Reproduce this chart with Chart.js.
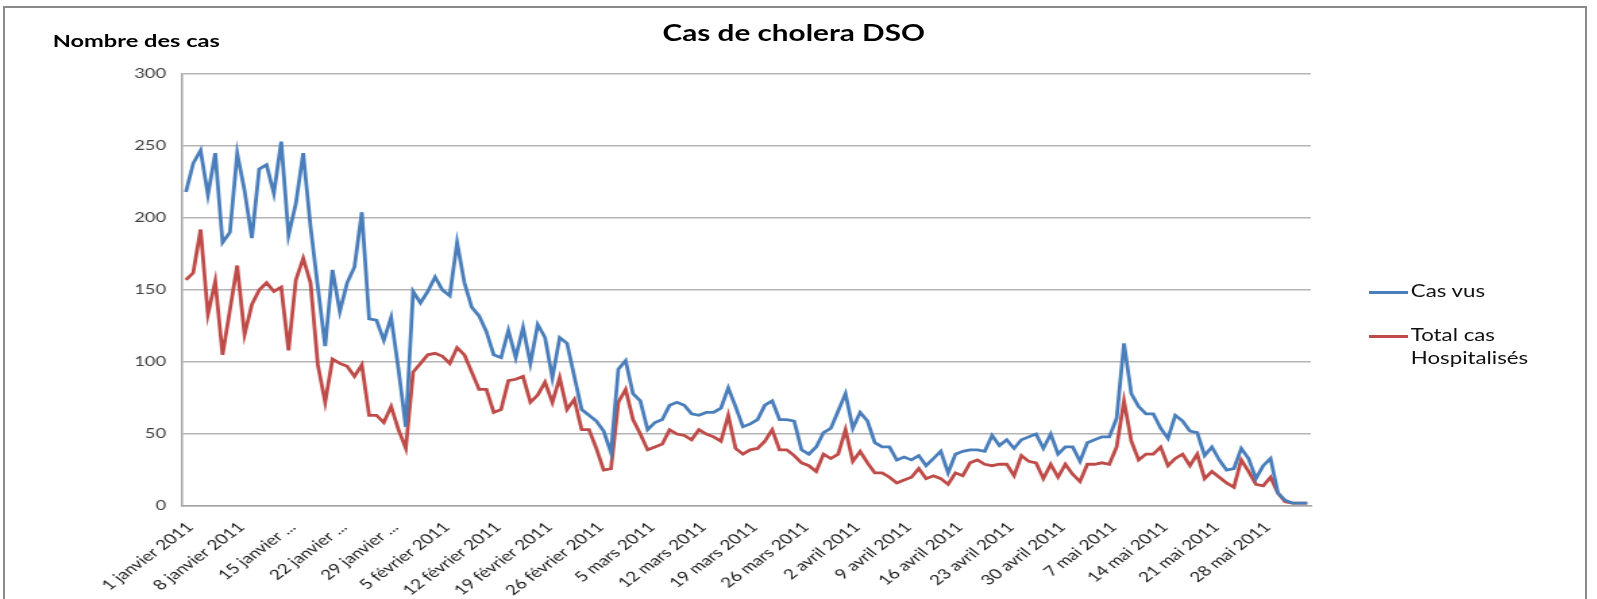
<!DOCTYPE html>
<html>
<head>
<meta charset="utf-8">
<script src="https://cdn.jsdelivr.net/npm/chart.js@4.4.1/dist/chart.umd.min.js"></script>
<style>
  html, body { margin: 0; padding: 0; background: #fff; overflow: hidden; }
  body { width: 1597px; height: 599px; position: relative; font-family: Lato, sans-serif; }
  /* le graphique d'origine est étiré horizontalement, on fait pareil */
  #stage { position: absolute; left: 0; top: 0; width: 1183px; height: 599px;
           transform: scaleX(1.35); transform-origin: 0 0; }
  #frame { position: absolute; left: 3px; top: 6px; width: 1580px; height: 650px;
           border: 2px solid #8a8a8a; }
  #titre { position: absolute; left: 0; top: 20px; width: 1176px; text-align: center;
           font-weight: bold; font-size: 22px; line-height: 26px; color: #000; }
  #ylabel { position: absolute; left: 39px; top: 31px; font-weight: bold; font-size: 17.5px;
            line-height: 20px; color: #000; }
  #legende { position: absolute; left: 1014px; top: 280px; font-size: 16.5px; line-height: 23px; color: #111; }
  .item { display: flex; align-items: flex-start; margin-bottom: 21px; }
  .trait { width: 29px; height: 2.5px; margin-top: 11px; margin-right: 2px; }
</style>
</head>
<body>
<div id="frame"></div>
<div id="stage">
  <canvas id="myChart" width="1183" height="599"></canvas>
  <div id="titre">Cas de cholera DSO</div>
  <div id="ylabel">Nombre des cas</div>
  <div id="legende">
    <div class="item"><div class="trait" style="background:#4a7ebb"></div><div>Cas vus</div></div>
    <div class="item"><div class="trait" style="background:#be4b48"></div><div>Total cas<br>Hospitalisés</div></div>
  </div>
</div>
<script>
// Jours : 1 janvier 2011 -> 3 juin 2011
const mois = ['janvier', 'février', 'mars', 'avril', 'mai', 'juin'];
const joursParMois = [31, 28, 31, 30, 31, 3];
const days = [];
mois.forEach((m, k) => {
    for (let d = 1; d <= joursParMois[k]; d++) days.push(d + ' ' + m + ' 2011');
});

// Étiquettes affichées (une par semaine), tronquées comme dans Excel
const tickLabels = ['1 janvier 2011', '8 janvier 2011', '15 janvier ...', '22 janvier ...', '29 janvier ...',
    '5 février 2011', '12 février 2011', '19 février 2011', '26 février 2011', '5 mars 2011',
    '12 mars 2011', '19 mars 2011', '26 mars 2011', '2 avril 2011', '9 avril 2011',
    '16 avril 2011', '23 avril 2011', '30 avril 2011', '7 mai 2011', '14 mai 2011',
    '21 mai 2011', '28 mai 2011'];

// Cas vus
const casVus = [
    218, 238, 247, 216, 245, 183, 190, 245, 219, 186,
    234, 237, 217, 253, 188, 210, 245, 194, 152, 111,
    164, 135, 155, 166, 204, 130, 129, 115, 131, 95,
    55, 149, 141, 149, 159, 150, 146, 183, 155, 138,
    132, 121, 105, 103, 122, 103, 124, 99, 126, 117,
    89, 117, 113, 90, 67, 63, 59, 52, 37, 95,
    101, 78, 73, 53, 58, 60, 70, 72, 70, 64,
    63, 65, 65, 68, 82, 69, 55, 57, 60, 70,
    73, 60, 60, 59, 39, 36, 41, 51, 54, 66,
    78, 54, 65, 59, 44, 41, 41, 32, 34, 32,
    35, 28, 33, 38, 23, 36, 38, 39, 39, 38,
    49, 42, 46, 40, 46, 48, 50, 40, 50, 36,
    41, 41, 31, 44, 46, 48, 48, 61, 113, 78,
    69, 64, 64, 54, 47, 63, 59, 52, 51, 35,
    41, 32, 25, 26, 40, 33, 19, 28, 33, 9,
    4, 2, 2, 2
];

// Total cas hospitalisés
const casHospit = [
    157, 162, 192, 133, 156, 105, 136, 167, 119, 140,
    150, 155, 149, 152, 108, 157, 172, 155, 98, 72,
    102, 99, 97, 90, 98, 63, 63, 58, 69, 53,
    40, 93, 99, 105, 106, 104, 99, 110, 105, 93,
    81, 81, 65, 67, 87, 88, 90, 72, 77, 86,
    72, 89, 67, 74, 53, 53, 40, 25, 26, 72,
    81, 60, 50, 39, 41, 43, 53, 50, 49, 46,
    53, 50, 48, 45, 63, 40, 36, 39, 40, 45,
    53, 39, 39, 35, 30, 28, 24, 36, 33, 36,
    53, 31, 38, 30, 23, 23, 20, 16, 18, 20,
    26, 19, 21, 19, 15, 23, 21, 30, 32, 29,
    28, 29, 29, 21, 35, 31, 30, 19, 29, 20,
    29, 22, 17, 29, 29, 30, 29, 41, 73, 45,
    32, 36, 36, 41, 28, 33, 36, 28, 36, 19,
    24, 20, 16, 13, 32, 24, 15, 14, 20, 9,
    3, 2, 2, 2
];

Chart.defaults.font.family = 'Lato, sans-serif';

const config = {
    type: 'line',
    data: {
        labels: days,
        datasets: [{
            label: 'Cas vus',
            data: casVus,
            borderColor: '#4a7ebb',
            backgroundColor: '#4a7ebb',
            borderWidth: 2.8,
            pointRadius: 0,
            tension: 0
        },
        {
            label: 'Total cas Hospitalisés',
            data: casHospit,
            borderColor: '#be4b48',
            backgroundColor: '#be4b48',
            borderWidth: 2.8,
            pointRadius: 0,
            tension: 0
        }]
    },
    options: {
        responsive: false,
        animation: false,
        devicePixelRatio: 1,
        layout: {
            padding: { left: 0, right: 212, top: 74, bottom: 0 }
        },
        scales: {
            x: {
                offset: true,
                grid: { display: false, drawTicks: false },
                border: { display: true, color: '#a6a6a6', width: 1.5 },
                ticks: {
                    autoSkip: false,
                    minRotation: 45,
                    maxRotation: 45,
                    padding: 13,
                    labelOffset: 3,
                    color: '#1a1a1a',
                    font: { size: 14 },
                    callback: (v, i) => (i % 7 === 0 ? tickLabels[i / 7] : null)
                },
                afterFit: (scale) => { scale.height = 93; }
            },
            y: {
                min: 0,
                max: 300,
                ticks: {
                    stepSize: 50,
                    padding: 12,
                    color: '#404040',
                    font: { size: 13.5 }
                },
                grid: { color: '#b4b4b4', lineWidth: 1.5, drawTicks: false },
                border: { display: true, color: '#a6a6a6', width: 1.5 },
                afterFit: (scale) => { scale.width = 135; }
            }
        },
        plugins: {
            legend: { display: false },
            title: { display: false },
            tooltip: { enabled: false }
        }
    }
};

const ctx = document.getElementById('myChart').getContext('2d');
new Chart(ctx, config);
</script>
</body>
</html>
